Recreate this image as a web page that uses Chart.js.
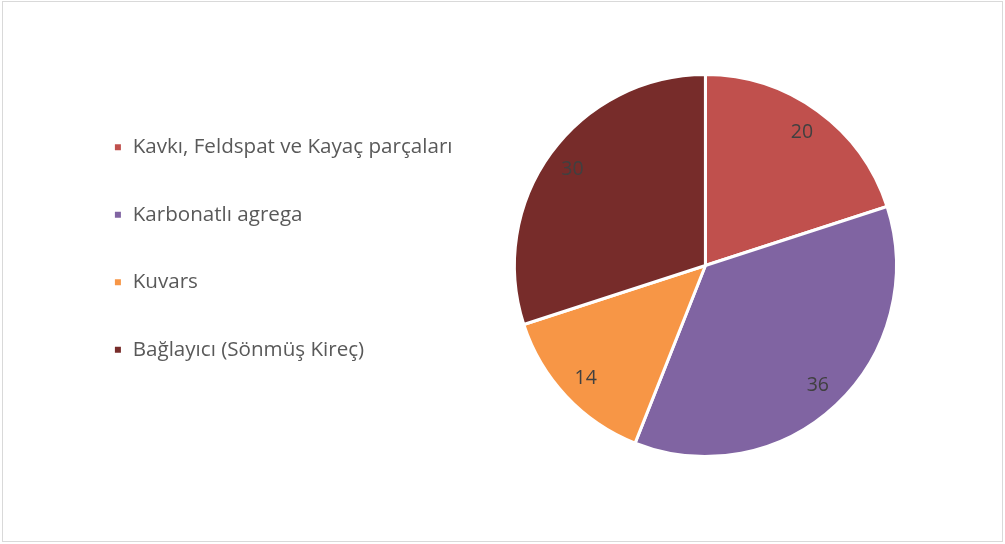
<!DOCTYPE html>
<html>
<head>
<meta charset="utf-8">
<script src="https://cdn.jsdelivr.net/npm/chart.js@4.4.1/dist/chart.umd.min.js"></script>
<style>
  html, body { margin: 0; padding: 0; background: #fff; }
  #wrap { position: relative; width: 1005px; height: 544px; }
  #frame { position: absolute; left: 2px; top: 1px; width: 999px; height: 539px; border: 1px solid #d9d9d9; pointer-events: none; }
  canvas { position: absolute; left: 0; top: 0; }
</style>
</head>
<body>
<div id="wrap">
  <canvas id="c" width="1005" height="544"></canvas>
  <div id="frame"></div>
</div>
<script>
const categories = ['Kavkı, Feldspat ve Kayaç parçaları', 'Karbonatlı agrega', 'Kuvars', 'Bağlayıcı (Sönmüş Kireç)'];
const values = [20, 36, 14, 30];
const colors = ['#C0504D', '#8064A2', '#F79646', '#772C2A'];

const FONT = '"Open Sans"';

const sliceLabels = {
  id: 'sliceLabels',
  afterDatasetsDraw(chart) {
    const ctx = chart.ctx;
    const meta = chart.getDatasetMeta(0);
    ctx.save();
    ctx.font = '19.5px ' + FONT;
    ctx.fillStyle = '#404040';
    ctx.textAlign = 'center';
    ctx.textBaseline = 'middle';
    meta.data.forEach((arc, i) => {
      const p = arc.getProps(['x', 'y', 'startAngle', 'endAngle', 'outerRadius'], true);
      const a = (p.startAngle + p.endAngle) / 2;
      const r = p.outerRadius * 0.86;
      ctx.fillText(String(values[i]), p.x + Math.cos(a) * r, p.y + Math.sin(a) * r);
    });
    ctx.restore();
  }
};

const chart = new Chart(document.getElementById('c'), {
  type: 'pie',
  data: {
    labels: categories,
    datasets: [{
      data: values,
      backgroundColor: colors,
      borderColor: '#ffffff',
      borderWidth: 3,
      radius: 191
    }]
  },
  options: {
    responsive: false,
    animation: false,
    layout: { padding: { left: 66.5, right: 56.7, top: 90, bottom: 103 } },
    plugins: {
      tooltip: { enabled: false },
      legend: {
        position: 'left',
        align: 'start',
        labels: {
          boxWidth: 9,
          boxHeight: 9,
          padding: 46.9,
          color: '#595959',
          font: { family: FONT, size: 20.6 }
        }
      }
    }
  },
  plugins: [sliceLabels]
});
</script>
</body>
</html>
